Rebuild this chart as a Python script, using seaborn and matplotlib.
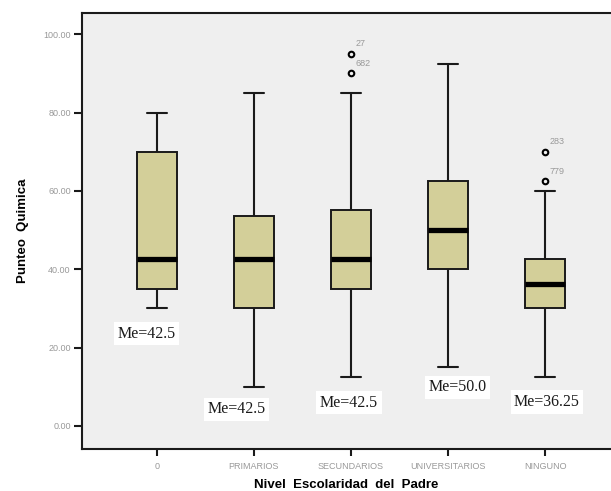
import pandas as pd
import numpy as np
import matplotlib
matplotlib.use("Agg")
import matplotlib.pyplot as plt
import seaborn as sns

# niveles de escolaridad del padre
niveles = ["0", "PRIMARIOS", "SECUNDARIOS", "UNIVERSITARIOS", "NINGUNO"]

# resumen: minimo, Q1, mediana, Q3, maximo (sin atipicos)
minimo = [30.0, 10.0, 12.5, 15.0, 12.5]
q1 = [35.0, 30.0, 35.0, 40.0, 30.0]
mediana = [42.5, 42.5, 42.5, 50.0, 36.25]
q3 = [70.0, 53.5, 55.0, 62.5, 42.5]
maximo = [80.0, 85.0, 85.0, 92.5, 60.0]

# valores atipicos con su numero de caso
atip_nivel = ["SECUNDARIOS", "SECUNDARIOS", "NINGUNO", "NINGUNO"]
atip_valor = [95.0, 90.0, 70.0, 62.5]
atip_caso = ["27", "682", "283", "779"]

etiquetas_me = ["Me=42.5", "Me=42.5", "Me=42.5", "Me=50.0", "Me=36.25"]

rows = []
for i, n in enumerate(niveles):
    for v in [minimo[i], q1[i], mediana[i], q3[i], maximo[i]]:
        rows.append({"nivel": n, "punteo": v})
df = pd.DataFrame(rows)
df_atip = pd.DataFrame({"nivel": atip_nivel, "punteo": atip_valor})

sns.set_style("ticks")
plt.rcParams["font.family"] = ["Liberation Sans", "DejaVu Sans"]

fig = plt.figure(figsize=(6.11, 4.91), dpi=100)
ax = fig.add_axes([0.134, 0.0855, 0.866, 0.888])
ax.set_facecolor("#EFEFEF")

sns.boxplot(data=df, x="nivel", y="punteo", order=niveles, whis=(0, 100),
            width=0.41, color="#D3CF99", saturation=1, ax=ax,
            boxprops=dict(edgecolor="#1a1a1a", linewidth=1.4),
            whiskerprops=dict(color="#1a1a1a", linewidth=1.5),
            capprops=dict(color="#1a1a1a", linewidth=1.5),
            medianprops=dict(color="black", linewidth=3.8))

sns.stripplot(data=df_atip, x="nivel", y="punteo", order=niveles, jitter=False,
              marker="o", size=4, color="#EFEFEF", edgecolor="black",
              linewidth=1.5, ax=ax, zorder=5)

for n, v, c in zip(atip_nivel, atip_valor, atip_caso):
    ax.annotate(c, xy=(niveles.index(n), v), xytext=(3, 4), textcoords="offset points",
                fontsize=6.5, color="#9a9a9a", va="bottom", ha="left")

# posiciones de las etiquetas de mediana (x relativo a la caja, y en puntos)
me_dx = [-0.11, -0.18, -0.02, 0.10, 0.02]
me_y = [23.5, 4.3, 5.9, 9.9, 6.1]
for i, t in enumerate(etiquetas_me):
    ax.text(i + me_dx[i], me_y[i], t, ha="center", va="center", fontsize=11.5,
            family=["Liberation Serif", "DejaVu Serif"], color="#1a1a1a",
            bbox=dict(facecolor="white", edgecolor="none", pad=2.5))

ax.set_xlim(-0.773, 4.68)
ax.set_ylim(-5.9, 105.4)
ax.set_yticks([0, 20, 40, 60, 80, 100])
ax.set_yticklabels([f"{v:.2f}" for v in [0, 20, 40, 60, 80, 100]])
ax.tick_params(axis="y", labelsize=6.5, labelcolor="#999999", length=6, width=1.5,
               color="#1a1a1a", direction="out", pad=2)
ax.tick_params(axis="x", labelsize=6.5, labelcolor="#999999", length=5, width=1.5,
               color="#1a1a1a", direction="out", pad=4)

ax.set_xlabel("Nivel  Escolaridad  del  Padre", fontsize=9.5, fontweight="bold",
              color="black", labelpad=6)
ax.set_ylabel("Punteo  Quimica", fontsize=9.5, fontweight="bold",
              color="black", labelpad=10)

for s in ["left", "bottom", "top"]:
    ax.spines[s].set_color("#1a1a1a")
    ax.spines[s].set_linewidth(1.5)
ax.spines["right"].set_visible(False)

fig.savefig("out.png", dpi=100, facecolor="white")
